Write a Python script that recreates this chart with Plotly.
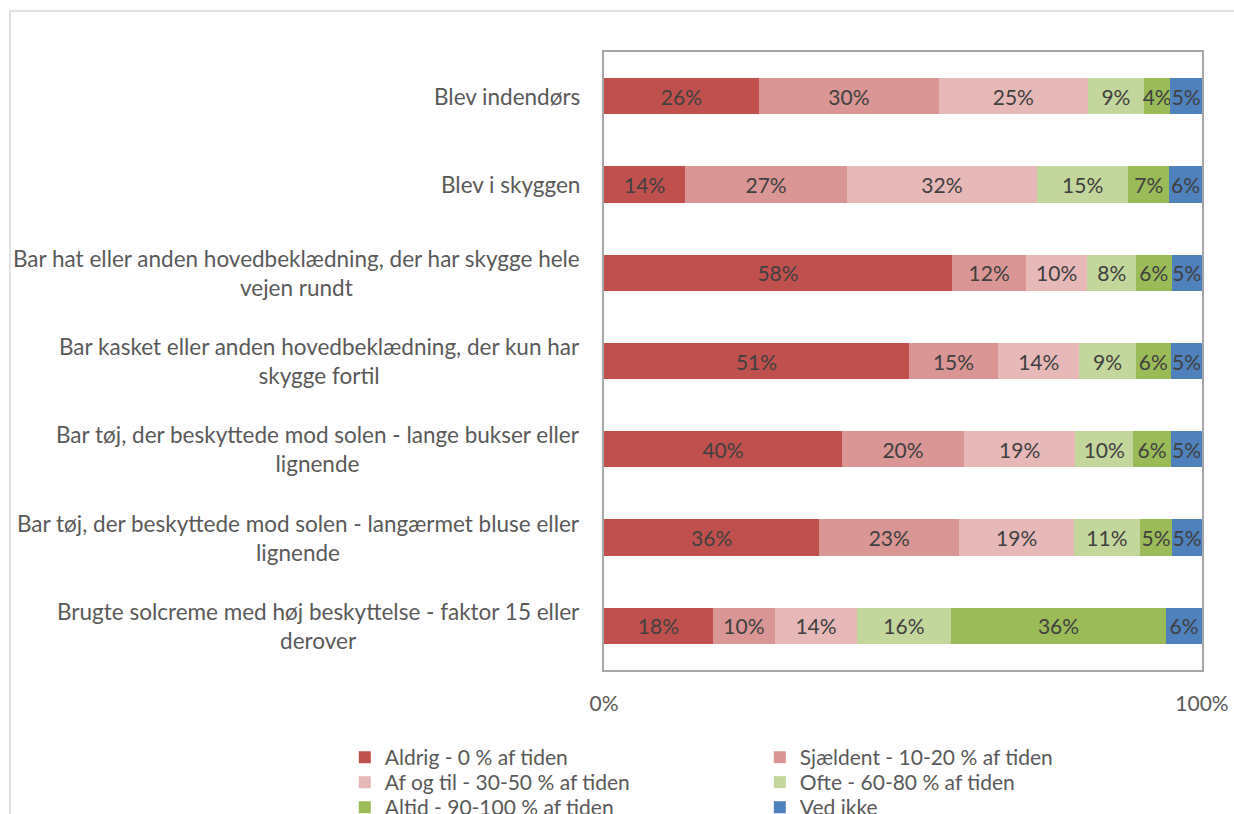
import plotly.graph_objects as go

categories = [
    "Blev indendørs",
    "Blev i skyggen",
    "Bar hat eller anden hovedbeklædning, der har skygge hele<br>vejen rundt",
    "Bar kasket eller anden hovedbeklædning, der kun har<br>skygge fortil",
    "Bar tøj, der beskyttede mod solen - lange bukser eller<br>lignende",
    "Bar tøj, der beskyttede mod solen - langærmet bluse eller<br>lignende",
    "Brugte solcreme med høj beskyttelse - faktor 15 eller<br>derover",
]

aldrig = [25.9, 13.6, 58.2, 51.0, 39.8, 36.0, 18.2]
sjaeldent = [30.1, 27.0, 12.4, 14.9, 20.4, 23.4, 10.4]
af_og_til = [24.9, 31.8, 10.2, 13.6, 18.6, 19.2, 13.7]
ofte = [9.4, 15.3, 8.2, 9.4, 9.7, 11.0, 15.7]
altid = [4.4, 6.8, 5.9, 5.9, 6.3, 5.4, 36.0]
ved_ikke = [5.3, 5.5, 5.1, 5.2, 5.2, 5.0, 6.0]

x_ticks = [0, 100]
x_tick_labels = ["0%", "100%"]

# (name, values, colour, legend row)
series = [
    ("Aldrig - 0 % af tiden", aldrig, "#C0504D", "legend"),
    ("Sjældent - 10-20 % af tiden", sjaeldent, "#D99694", "legend"),
    ("Af og til - 30-50 % af tiden", af_og_til, "#E6B9B8", "legend2"),
    ("Ofte - 60-80 % af tiden", ofte, "#C3D69B", "legend2"),
    ("Altid - 90-100 % af tiden", altid, "#9BBB59", "legend3"),
    ("Ved ikke", ved_ikke, "#4F81BD", "legend3"),
]

FONT = "Lato"
GREY = "#595959"

fig = go.Figure()
for name, vals, color, leg in series:
    fig.add_trace(go.Bar(
        y=categories, x=vals, name=name, orientation="h", legend=leg,
        marker=dict(color=color, line=dict(width=0)),
        text=vals, texttemplate="%{x:.0f}%", textposition="inside",
        insidetextanchor="middle", textangle=0, constraintext="none",
        textfont=dict(family=FONT, size=21, color="#404040"),
        hoverinfo="skip",
    ))

# category labels, centred multi-line like the original
for cat in categories:
    fig.add_annotation(
        x=0, xref="paper", y=cat, yref="y", xanchor="right", xshift=-22,
        text=cat, showarrow=False, align="center",
        font=dict(family=FONT, size=22.5, color=GREY),
    )

# outer chart border (runs off the right and bottom edge)
fig.add_shape(type="rect", xref="paper", yref="paper",
              x0=-0.9933, x1=1.07, y0=-0.26, y1=1.0663,
              line=dict(color="#D9D9D9", width=1.5), layer="below")

# one legend per row so the rows sit as tight as in the original
row_step = 25 / 618
legend_rows = {}
for i, key in enumerate(["legend", "legend2", "legend3"]):
    legend_rows[key] = dict(
        orientation="h", x=-0.4334, y=-0.1084 - i * row_step,
        xanchor="left", yanchor="top",
        entrywidth=370, entrywidthmode="pixels",
        font=dict(family=FONT, size=21, color=GREY),
        traceorder="normal", itemclick=False, bgcolor="rgba(0,0,0,0)",
    )

fig.update_layout(
    width=1234, height=814,
    margin=dict(l=604, r=32, t=52, b=144, autoexpand=False),
    barmode="stack", bargap=0.59,
    plot_bgcolor="white", paper_bgcolor="white",
    uniformtext=dict(minsize=21, mode="show"),
    font=dict(family=FONT, size=21, color=GREY),
    xaxis=dict(range=[0, 100], tickvals=x_ticks, ticktext=x_tick_labels,
               showgrid=False, zeroline=False, showline=True, mirror=True,
               linecolor="#A6A6A6", linewidth=1.5, ticks="",
               ticklabelstandoff=14,
               tickfont=dict(family=FONT, size=21, color=GREY)),
    yaxis=dict(autorange="reversed", showticklabels=False, showgrid=False,
               zeroline=False, showline=True, mirror=True,
               linecolor="#A6A6A6", linewidth=1.5, ticks=""),
    **legend_rows,
)

fig.write_html("out.html", config={"displayModeBar": False},
               post_script="document.body.style.margin='0';document.body.style.overflow='hidden';")
